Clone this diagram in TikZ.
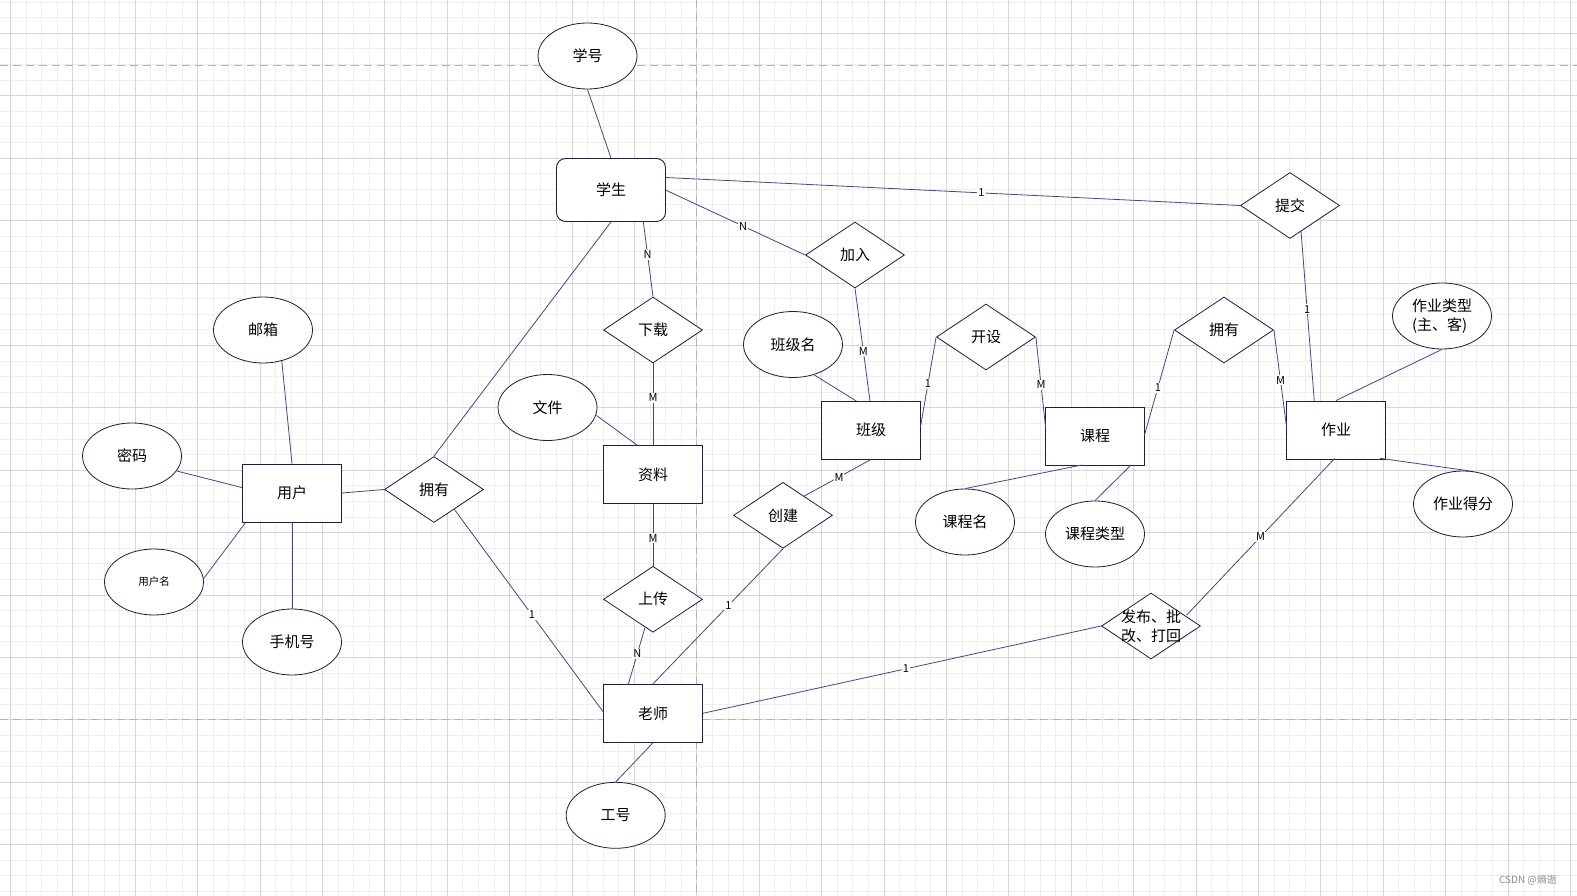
\documentclass[tikz,border=0pt]{standalone}
\usepackage{fontspec}
\setmainfont{Noto Sans CJK SC}
\usetikzlibrary{shapes.geometric,calc}
\definecolor{linec}{RGB}{62,72,140}
\definecolor{bordc}{RGB}{25,30,75}
\definecolor{gridmin}{RGB}{238,238,238}
\definecolor{gridmaj}{RGB}{214,214,214}
\definecolor{dashc}{RGB}{178,178,178}
\begin{document}
\begin{tikzpicture}[x=1pt,y=-1pt,
  txt/.style={font=\fontsize{15}{19}\selectfont,text=black},
  ent/.style={txt,rectangle,draw=bordc,line width=0.9pt,fill=white,minimum width=99pt,minimum height=58pt,inner sep=0pt},
  attr/.style={txt,ellipse,draw=bordc,line width=0.8pt,fill=white,minimum width=99pt,minimum height=66pt,inner sep=0pt},
  rel/.style={txt,diamond,draw=bordc,line width=0.8pt,fill=white,minimum width=99pt,minimum height=66pt,inner sep=0pt},
  conn/.style={draw=linec,line width=0.8pt},
  lbl/.style={fill=white,inner sep=1pt,font=\fontsize{11}{12}\selectfont,text=black},
  gmin/.style={draw=gridmin,line width=0.8pt},
  gmaj/.style={draw=gridmaj,line width=0.8pt},
  pagebreak/.style={draw=dashc,line width=0.8pt,dash pattern=on 8pt off 5pt}
]
\useasboundingbox (0,0) rectangle (1577,896);
\fill[white] (0,0) rectangle (1577,896);
% grid
\foreach \i in {0,...,100} \draw[gmin] ({10.3+15.6*\i},0) -- ({10.3+15.6*\i},896);
\foreach \j in {-2,...,55} \draw[gmin] (0,{33.3+15.6*\j}) -- (1577,{33.3+15.6*\j});
\foreach \i in {0,...,25} \draw[gmaj] ({10.3+62.4*\i},0) -- ({10.3+62.4*\i},896);
\foreach \j in {0,...,13} \draw[gmaj] (0,{33.3+62.4*\j}) -- (1577,{33.3+62.4*\j});
\draw[pagebreak] (0,65.5) -- (1577,65.5);
\draw[pagebreak] (0,719.5) -- (1577,719.5);
\draw[pagebreak] (696.7,0) -- (696.7,896);

% connectors first (drawn under shapes)
\coordinate (c0) at (0,0);
% nodes
\node[attr] (xh) at (587.5,56) {学号};
\node[ent,rounded corners=9pt,minimum width=109pt,minimum height=63pt] (xs) at (611,190) {学生};
\node[rel] (tj) at (1290,205.5) {提交};
\node[rel] (jr) at (855,255) {加入};
\node[rel] (xz) at (653,330) {下载};
\node[attr] (bjm) at (793,344.5) {班级名};
\node[attr] (wj) at (547.5,407.5) {文件};
\node[ent] (bj) at (871,430) {班级};
\node[rel] (ks) at (986,337) {开设};
\node[ent] (kc) at (1095,436) {课程};
\node[rel] (yy2) at (1224,330) {拥有};
\node[ent] (zy) at (1336,430) {作业};
\node[attr,align=left] (zylx) at (1442,316) {作业类型\\(主、客)};
\node[attr] (zydf) at (1463,504) {作业得分};
\node[attr] (kcm) at (965,522) {课程名};
\node[attr] (kclx) at (1095,534) {课程类型};
\node[rel] (fb) at (1151,626) {};
\node[txt,align=left,inner sep=0pt] (fbt) at (1151,626) {发布、批\\改、打回};
\node[attr] (yx) at (263,330) {邮箱};
\node[attr] (mm) at (132,456) {密码};
\node[ent] (yh) at (292,493) {用户};
\node[attr,font=\fontsize{10.5}{12}\selectfont] (yhm) at (154,582) {用户名};
\node[attr] (sjh) at (292,642) {手机号};
\node[rel] (yy1) at (434,489.5) {拥有};
\node[ent] (zl) at (653,474.5) {资料};
\node[rel] (sc) at (653,599.3) {上传};
\node[rel] (cj) at (783,515.3) {创建};
\node[ent] (ls) at (653,713.3) {老师};
\node[attr] (gh) at (615.7,815.3) {工号};
\node[font=\fontsize{10}{12}\selectfont,text=black!45] (wm) at (1528,880) {CSDN @熵逝};

% connectors
\begin{scope}[on background layer/.style={}]
\draw[conn] (xh.south) -- (xs.north);
\draw[conn] ($(xs)+(54.5,-12.5)$) -- node[lbl,pos=0.55]{1} (tj.west);
\draw[conn] ($(xs)+(54.5,0)$) -- node[lbl,pos=0.555]{N} (jr.west);
\draw[conn] ($(xs)+(32.3,31.5)$) -- node[lbl,pos=0.44]{N} (xz.north);
\draw[conn] (xz.south) -- node[lbl,pos=0.42]{M} (zl.north);
\draw[conn] ($(wj)+(49,8)$) -- ($(zl)+(-15.4,-29)$);
\draw[conn] (xs.south) -- (yy1.north);
\draw[conn] (jr.south) -- node[lbl,pos=0.56]{M} ($(bj)+(-1,-29)$);
\draw[conn] ($(bjm)+(20.3,29.8)$) -- ($(bj)+(-14.3,-28.7)$);
\draw[conn] ($(bj)+(49.5,-3.3)$) -- node[lbl,pos=0.48]{1} (ks.west);
\draw[conn] (ks.east) -- node[lbl,pos=0.53]{M} ($(kc)+(-49.5,-9.3)$);
\draw[conn] ($(kc)+(49.5,-1)$) -- node[lbl,pos=0.45]{1} (yy2.west);
\draw[conn] (yy2.east) -- node[lbl,pos=0.52]{M} ($(zy)+(-49.5,-3.3)$);
\draw[conn] ($(tj)+(11,25.5)$) -- node[lbl,pos=0.46]{1} ($(zy)+(-21.7,-28.7)$);
\draw[conn] ($(kc)+(-13.3,29)$) -- (kcm.north);
\draw[conn] ($(kc)+(36,29)$) -- (kclx.north);
\draw[conn] ($(zy)+(-1.4,28.5)$) -- node[lbl,pos=0.5]{M} ($(fb)+(35.7,-11)$);
\draw[conn] (ls.east) -- node[lbl,pos=0.51]{1} (fb.west);
\draw[conn] (zy.north) -- (zylx.south);
\draw[conn] ($(zy)+(44,28.3)$) -- ($(zydf)+(7,-33)$);
\draw[conn] (bj.south) -- node[lbl,pos=0.48]{M} ($(cj)+(21.3,-19.3)$);
\draw[conn] (cj.south) -- node[lbl,pos=0.42]{1} (ls.north);
\draw[conn] (zl.south) -- node[lbl,pos=0.55]{M} (sc.north);
\draw[conn] ($(sc)+(-8,28.3)$) -- node[lbl,pos=0.46]{N} ($(ls)+(-24.7,-29)$);
\draw[conn] ($(yy1)+(20.3,19.8)$) -- node[lbl,pos=0.52]{1} ($(ls)+(-49.5,-1)$);
\draw[conn] (yh.east) -- (yy1.west);
\draw[conn] ($(yx)+(18.7,30)$) -- (yh.north);
\draw[conn] ($(mm)+(44.7,15)$) -- ($(yh)+(-49.5,-5.3)$);
\draw[conn] ($(yhm)+(49.3,-3)$) -- ($(yh)+(-46,29)$);
\draw[conn] (yh.south) -- (sjh.north);
\draw[conn] (ls.south) -- (gh.north);
\end{scope}
\end{tikzpicture}
\end{document}
